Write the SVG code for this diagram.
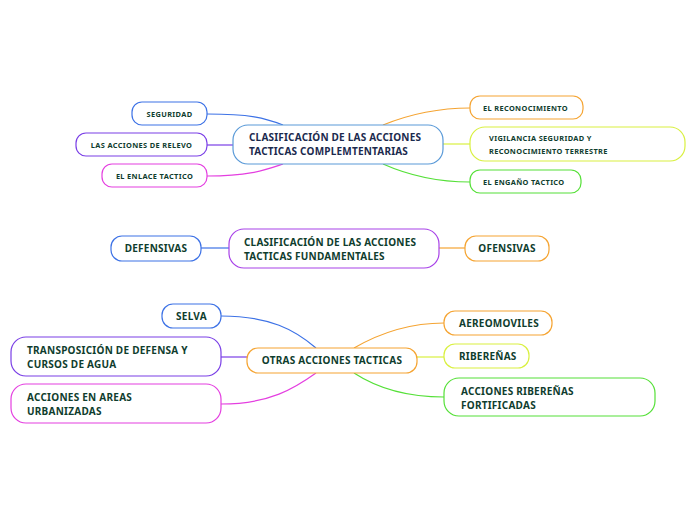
<svg xmlns="http://www.w3.org/2000/svg" width="696" height="520" viewBox="0 0 696 520">
<style>
.n{fill:#fff;stroke-width:1.2}
.t{font-family:"Noto Sans","Open Sans",sans-serif;font-weight:bold;fill:#0f3d2e}
.s{font-size:7.4px;letter-spacing:0.35px}
.m{font-size:10px;letter-spacing:0.25px}
.b{font-size:10px;letter-spacing:0.2px}
.c{fill:none;stroke-width:1.2}
.blue{stroke:#3d72e6}.purple{stroke:#7a3fe6}.mag{stroke:#e43fe0}.orange{stroke:#f5a432}.yel{stroke:#d9f040}.green{stroke:#55e038}
</style>
<rect width="696" height="520" fill="#fff"/>
<g id="connectors">
<path class="c blue" d="M207,114 C250,114 265,118 283,125"/>
<path class="c purple" d="M207,145 L233,145"/>
<path class="c mag" d="M207,176 C250,176 265,170 283,164"/>
<path class="c orange" d="M383,125 C410,114 440,108 470,108"/>
<path class="c yel" d="M443,144 L470,144"/>
<path class="c green" d="M383,164 C410,176 440,182 470,182"/>
<path class="c blue" d="M201,248 L229,248"/>
<path class="c orange" d="M439,248 L465,248"/>
<path class="c blue" d="M221,316 C270,316 295,330 316,348"/>
<path class="c purple" d="M221,357 L247,357"/>
<path class="c mag" d="M221,404 C270,404 295,388 316,373"/>
<path class="c orange" d="M354,348 C380,333 410,323 444,323"/>
<path class="c yel" d="M417,357 L444,357"/>
<path class="c green" d="M354,373 C380,390 410,397 444,397"/>
</g>
<g id="central1"><rect class="n" x="233" y="125" width="210" height="39" rx="15" stroke="#5a9ad8"/><text class="t b" x="249" y="141" style="fill:#1b2a4e">CLASIFICACIÓN DE LAS ACCIONES</text><text class="t b" x="249" y="155" style="fill:#1b2a4e">TACTICAS COMPLEMTENTARIAS</text></g>
<g id="seguridad"><rect class="n blue" x="132" y="102" width="75" height="23" rx="10"/><text class="t s" x="169.5" y="116.5" text-anchor="middle">SEGURIDAD</text></g>
<g id="relevo"><rect class="n purple" x="76" y="133" width="131" height="23" rx="10"/><text class="t s" x="141.5" y="147.5" text-anchor="middle">LAS ACCIONES DE RELEVO</text></g>
<g id="enlace"><rect class="n mag" x="102" y="164" width="105" height="23" rx="10"/><text class="t s" x="154.5" y="178.5" text-anchor="middle">EL ENLACE TACTICO</text></g>
<g id="reconocimiento"><rect class="n orange" x="470" y="96" width="113" height="23" rx="10"/><text class="t s" x="483" y="110.5">EL RECONOCIMIENTO</text></g>
<g id="vigilancia"><rect class="n yel" x="470" y="127" width="215" height="34" rx="15"/><text class="t s" x="489" y="141">VIGILANCIA SEGURIDAD Y</text><text class="t s" x="489" y="153.5">RECONOCIMIENTO TERRESTRE</text></g>
<g id="engano"><rect class="n green" x="470" y="170" width="111" height="23" rx="10"/><text class="t s" x="483" y="184.5">EL ENGAÑO TACTICO</text></g>
<g id="central2"><rect class="n" x="229" y="229" width="210" height="39" rx="15" stroke="#a842e8"/><text class="t b" x="244" y="245.5">CLASIFICACIÓN DE LAS ACCIONES</text><text class="t b" x="244" y="259.5">TACTICAS FUNDAMENTALES</text></g>
<g id="defensivas"><rect class="n blue" x="111" y="236" width="90" height="25" rx="11"/><text class="t m" x="156" y="252" text-anchor="middle">DEFENSIVAS</text></g>
<g id="ofensivas"><rect class="n orange" x="465" y="236" width="84" height="25" rx="11"/><text class="t m" x="507" y="252" text-anchor="middle">OFENSIVAS</text></g>
<g id="otras"><rect class="n orange" x="247" y="348" width="170" height="25" rx="11"/><text class="t m" x="332" y="364" text-anchor="middle">OTRAS ACCIONES TACTICAS</text></g>
<g id="selva"><rect class="n blue" x="162" y="304" width="59" height="24" rx="11"/><text class="t m" x="191.5" y="319.5" text-anchor="middle">SELVA</text></g>
<g id="transposicion"><rect class="n purple" x="11" y="337" width="210" height="39" rx="15"/><text class="t m" x="27" y="354">TRANSPOSICIÓN DE DEFENSA Y</text><text class="t m" x="27" y="368">CURSOS DE AGUA</text></g>
<g id="urbanizadas"><rect class="n mag" x="11" y="384" width="210" height="39" rx="15"/><text class="t m" x="27" y="400.5">ACCIONES EN AREAS</text><text class="t m" x="27" y="414.5">URBANIZADAS</text></g>
<g id="aereomoviles"><rect class="n orange" x="444" y="311" width="108" height="24" rx="11"/><text class="t m" x="459" y="327">AEREOMOVILES</text></g>
<g id="riberenas"><rect class="n yel" x="444" y="344" width="85" height="24" rx="11"/><text class="t m" x="459" y="360">RIBEREÑAS</text></g>
<g id="fortificadas"><rect class="n green" x="444" y="378" width="211" height="38" rx="15"/><text class="t m" x="461" y="395">ACCIONES RIBEREÑAS</text><text class="t m" x="461" y="409">FORTIFICADAS</text></g>
</svg>
